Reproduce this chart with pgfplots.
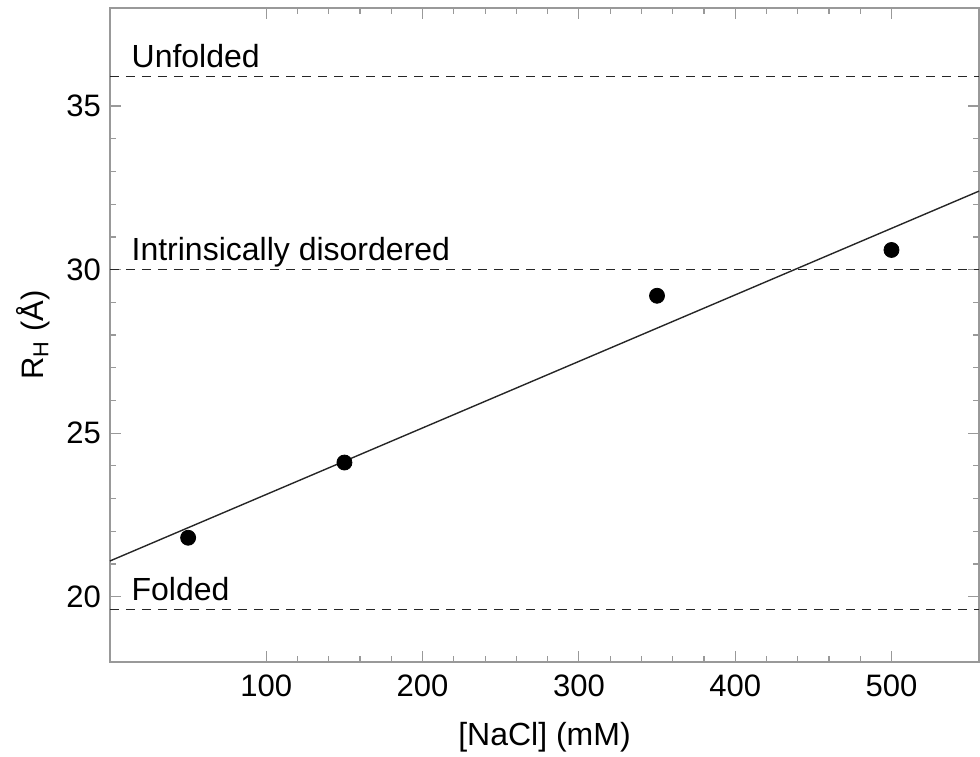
\documentclass[border=0pt]{standalone}
\usepackage{pgfplots}
\pgfplotsset{compat=1.18}
\usepackage{fontspec}
\setmainfont{Liberation Sans}
\begin{document}
\begin{tikzpicture}
\begin{axis}[
  name=ax,
  scale only axis,
  width=434.5pt, height=327pt,
  xmin=0, xmax=556, ymin=18, ymax=38,
  xtick={100,200,300,400,500},
  ytick={20,25,30,35},
  minor x tick num=4, minor y tick num=4,
  tick align=inside,
  major tick length=5.5pt, minor tick length=3pt,
  axis line style={draw=gray!80, line width=0.8pt},
  every tick/.style={draw=gray!80, line width=0.6pt},
  tick label style={font=\fontsize{15.5}{18}\selectfont, black},
  /pgf/number format/assume math mode=true,
  xticklabel style={yshift=-3pt},
  yticklabel style={xshift=-1pt},
  xlabel={[NaCl] (mM)},
  ylabel={R\textsubscript{H} (Å)},
  xlabel style={font=\fontsize{16}{19}\selectfont, yshift=-6pt},
  ylabel style={font=\fontsize{15.5}{18}\selectfont, yshift=1.5pt},
  clip=false,
]
\addplot[black!85, dash pattern=on 4.5pt off 3.5pt, line width=0.7pt] coordinates {(0,35.9) (556,35.9)};
\addplot[black!85, dash pattern=on 4.5pt off 3.5pt, line width=0.7pt] coordinates {(0,30.0) (556,30.0)};
\addplot[black!85, dash pattern=on 4.5pt off 3.5pt, line width=0.7pt] coordinates {(0,19.6) (556,19.6)};
\addplot[black!85, line width=0.7pt] coordinates {(0,21.09) (556,32.40)};
\addplot[only marks, mark=*, mark size=3.75pt, black] coordinates {(50,21.8) (150,24.1) (350,29.2) (500,30.6)};
\node[anchor=base west, inner sep=0pt, font=\fontsize{16}{19}\selectfont] at (axis cs:13.6,35.9) [yshift=4.5pt] {Unfolded};
\node[anchor=base west, inner sep=0pt, font=\fontsize{16}{19}\selectfont] at (axis cs:13.6,30.0) [yshift=4.5pt] {Intrinsically disordered};
\node[anchor=base west, inner sep=0pt, font=\fontsize{16}{19}\selectfont] at (axis cs:13.6,19.6) [yshift=4.5pt] {Folded};
\end{axis}
\pgfresetboundingbox
\path[use as bounding box] ([xshift=-55pt,yshift=-47pt]ax.south west) rectangle ([xshift=0.5pt,yshift=4pt]ax.north east);
\end{tikzpicture}
\end{document}
